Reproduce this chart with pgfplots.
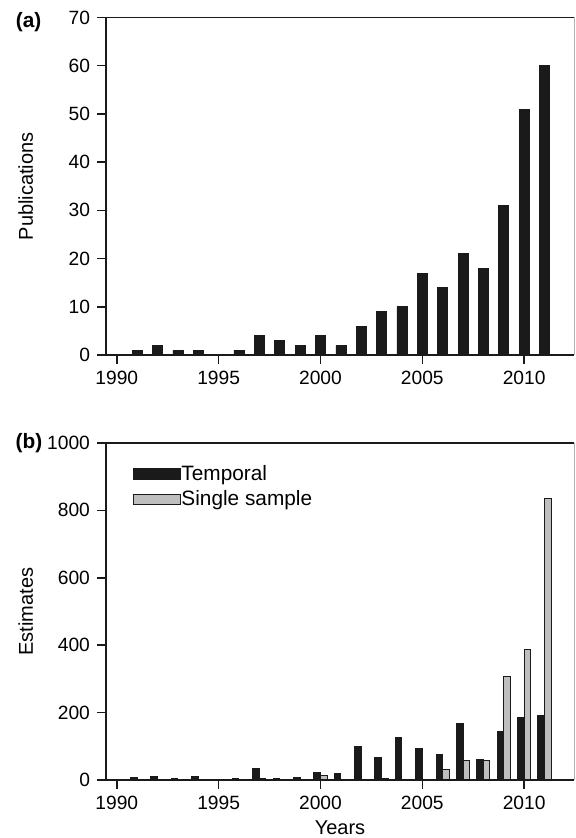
\documentclass[border=0pt]{standalone}
\usepackage{pgfplots}
\pgfplotsset{compat=1.18}
\usepackage{fontspec}
\setmainfont{Liberation Sans}
\definecolor{barblack}{HTML}{1A1A1A}
\definecolor{bargray}{HTML}{BEBEBE}

\pgfplotsset{
  boxlegend/.style={legend image code/.code={\draw[##1, line width=0.7pt] (0pt,-2.6pt) rectangle (23.5pt,2.6pt);}},
  common/.style={
    scale only axis, width=234pt, anchor=south west,
    xmin=1989.47, xmax=2012.45,
    axis x line=box, axis y line=left,
    axis line style={-, line width=0.75pt, color=barblack},
    xtick={1990,1995,2000,2005,2010},
    xtick pos=bottom, ytick pos=left, tick align=outside,
    major tick length=4.5pt, tick style={line width=0.75pt, barblack},
    /pgf/number format/assume math mode=true,
    /pgf/number format/1000 sep={},
    tick label style={font=\fontsize{9.6}{11.5}\selectfont},
    label style={font=\fontsize{10.3}{12}\selectfont},
    every axis y label/.style={at={(axis description cs:-0.1716,0.5)}, rotate=90, anchor=center},
    after end axis/.code={\draw[black!30, line width=0.5pt] (rel axis cs:1,0) -- (rel axis cs:1,1);},
  }
}

\begin{document}
\begin{tikzpicture}
\path[use as bounding box] (0,0) rectangle (287.5pt,419pt);

\begin{axis}[common, at={(53pt,241.5pt)}, height=168.75pt,
  ymin=0, ymax=70, ytick={0,10,...,70}, ylabel={Publications},
  ybar, bar width=5pt]
\addplot[fill=barblack, draw=barblack, line width=0.3pt] coordinates {
 (1991,1) (1992,2) (1993,1) (1994,1) (1996,1) (1997,4) (1998,3) (1999,2)
 (2000,4) (2001,2) (2002,6) (2003,9) (2004,10) (2005,17) (2006,14) (2007,21)
 (2008,18) (2009,31) (2010,51) (2011,60)};
\end{axis}

\begin{axis}[common, at={(53pt,29pt)}, height=168.5pt,
  ymin=0, ymax=1000, ytick={0,200,...,1000}, ylabel={Estimates}, xlabel={Years},
  every axis x label/.style={at={(axis description cs:0.5,-0.1424)}, anchor=center},
  ybar=0pt, bar width=3.3pt,
  legend style={at={(axis description cs:0.057,0.935)}, anchor=north west, draw=none, fill=none,
    font=\fontsize{10.4}{12}\selectfont, inner sep=0pt, row sep=3.6pt,
    nodes={inner sep=0pt, text height=7.4pt, text depth=1.6pt},
    /tikz/every even column/.append style={column sep=3pt}},
  legend cell align=left]
\addplot[fill=barblack, draw=barblack, line width=0.5pt, boxlegend] coordinates {
 (1991,8) (1992,11) (1993,5) (1994,9) (1996,5) (1997,34) (1998,5) (1999,7)
 (2000,22) (2001,20) (2002,99) (2003,67) (2004,127) (2005,93) (2006,76) (2007,167)
 (2008,62) (2009,143) (2010,186) (2011,191)};
\addlegendentry{Temporal}
\addplot[fill=bargray, draw=barblack, line width=0.5pt, boxlegend] coordinates {
 (1997,5) (2000,13) (2003,3) (2006,31) (2007,57) (2008,59) (2009,308) (2010,387) (2011,834)};
\addlegendentry{Single sample}
\end{axis}

\node[font=\bfseries\fontsize{10.4}{12}\selectfont] at (14.3pt,408pt) {(a)};
\node[font=\bfseries\fontsize{10.4}{12}\selectfont] at (14.5pt,197.6pt) {(b)};
\end{tikzpicture}
\end{document}
